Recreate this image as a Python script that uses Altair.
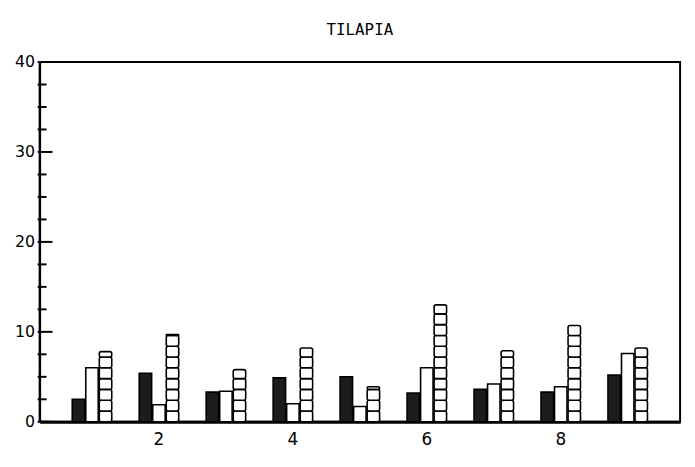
import altair as alt
import pandas as pd

groups = [1, 2, 3, 4, 5, 6, 7, 8, 9]
dark = [2.5, 5.4, 3.3, 4.9, 5.0, 3.2, 3.6, 3.3, 5.2]
white = [6.0, 1.9, 3.4, 2.0, 1.7, 6.0, 4.2, 3.9, 7.6]
squares = [7.8, 9.7, 5.8, 8.2, 3.9, 13.0, 7.9, 10.7, 8.2]
y_major = [0, 10, 20, 30, 40]
y_minor = [2.5, 5, 7.5, 12.5, 15, 17.5, 22.5, 25, 27.5, 32.5, 35, 37.5]
square_step = 1.2

bar_rows = []
for g, d, w in zip(groups, dark, white):
    bar_rows.append(dict(g=g, s="a", y0=0, y1=d, kind="dark"))
    bar_rows.append(dict(g=g, s="b", y0=0, y1=w, kind="white"))
bars_df = pd.DataFrame(bar_rows)

seg_rows = []
for g, v in zip(groups, squares):
    k = 0
    while k * square_step < v - 0.05:
        seg_rows.append(dict(g=g, s="c", y0=k * square_step, y1=min((k + 1) * square_step, v)))
        k += 1
seg_df = pd.DataFrame(seg_rows)

yscale = alt.Scale(domain=[0, 40], nice=False, zero=True)
x_enc = alt.X(
    "g:O",
    scale=alt.Scale(domain=groups, paddingInner=0.41, paddingOuter=0.487),
    axis=alt.Axis(
        labelExpr="datum.value % 2 == 0 ? datum.value : ''",
        ticks=False, labelAngle=0, title=None, domain=True, domainColor="black",
        domainWidth=3, labelFontSize=17, labelPadding=10, labelColor="black",
        labelFont="DejaVu Sans", grid=False,
    ),
)
xoff = alt.XOffset("s:N", scale=alt.Scale(domain=["a", "b", "c"], paddingInner=0.08))
y_axis = alt.Axis(
    values=y_major, ticks=False, title=None, domainColor="black", domainWidth=2,
    labelFontSize=16, labelPadding=5, labelColor="black", labelFont="DejaVu Sans",
    grid=False,
)

base_bars = alt.Chart(bars_df).mark_bar(stroke="black", strokeWidth=1.6).encode(
    x=x_enc,
    xOffset=xoff,
    y=alt.Y("y1:Q", scale=yscale, axis=y_axis),
    y2="y0:Q",
    fill=alt.Fill("kind:N", scale=alt.Scale(domain=["dark", "white"], range=["#1c1c1c", "white"]), legend=None),
)

seg_bars = alt.Chart(seg_df).mark_bar(
    fill="white", stroke="black", strokeWidth=1.6, cornerRadius=2
).encode(
    x=x_enc,
    xOffset=xoff,
    y=alt.Y("y1:Q", scale=yscale, axis=y_axis),
    y2="y0:Q",
)

major_rules = alt.Chart(pd.DataFrame({"v": y_major})).mark_rule(color="black", strokeWidth=2).encode(
    y=alt.Y("v:Q", scale=yscale, axis=y_axis), x=alt.value(-2), x2=alt.value(13)
)
minor_rules = alt.Chart(pd.DataFrame({"v": y_minor})).mark_rule(color="black", strokeWidth=2).encode(
    y=alt.Y("v:Q", scale=yscale, axis=y_axis), x=alt.value(-2), x2=alt.value(7)
)

chart = alt.layer(major_rules, minor_rules, base_bars, seg_bars).properties(
    width=648,
    height=364,
    title=alt.TitleParams(
        "TILAPIA", fontSize=16, font="DejaVu Sans Mono", fontWeight="normal",
        color="black", anchor="middle", offset=16,
    ),
    autosize=alt.AutoSizeParams(type="none"),
    padding={"left": 32, "top": 52, "right": 7, "bottom": 35},
).configure(background="white").configure_view(stroke="black", strokeWidth=2)

chart.save("out.html", embed_options={"renderer": "svg", "actions": False})
